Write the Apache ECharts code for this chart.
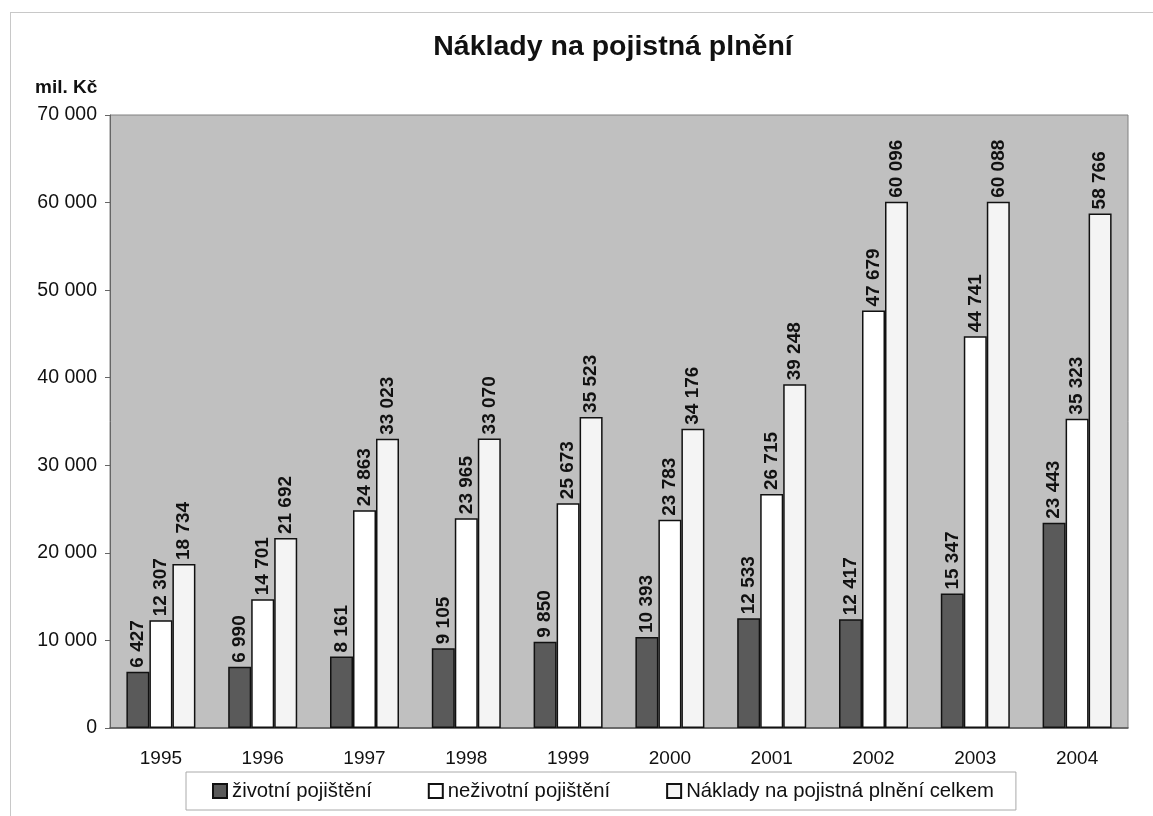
<!DOCTYPE html>
<html><head><meta charset="utf-8">
<script src="https://cdn.jsdelivr.net/npm/echarts@6/dist/echarts.min.js"></script>
<style>html,body{margin:0;padding:0;background:#fff}#c{width:1153px;height:816px}
#frame{position:absolute;left:10px;top:12px;width:1160px;height:820px;border:1.5px solid #c8c8c8;box-sizing:border-box;pointer-events:none}</style>
</head><body><div id="c"></div><div id="frame"></div>
<script>
const years = ['1995','1996','1997','1998','1999','2000','2001','2002','2003','2004'];
const zivotni = [6427, 6990, 8161, 9105, 9850, 10393, 12533, 12417, 15347, 23443];
const nezivotni = [12307, 14701, 24863, 23965, 25673, 23783, 26715, 47679, 44741, 35323];
const celkem = [18734, 21692, 33023, 33070, 35523, 34176, 39248, 60096, 60088, 58766];
const seriesNames = ['životní pojištění', 'neživotní pojištění', 'Náklady na pojistná plnění celkem'];

const fmt = v => String(v).replace(/\B(?=(\d{3})+(?!\d))/g, ' ');
const font = 'Arial, "Liberation Sans", sans-serif';
const lbl = {show:true, position:'top', rotate:90, align:'left', verticalAlign:'middle', distance:4,
  fontFamily:font, fontSize:19, fontWeight:'bold', color:'#111', formatter:p=>fmt(p.value)};
function mk(name, data, color){
  return {name, type:'bar', data, barWidth:23, barGap:'0%',
    itemStyle:{color, borderColor:'#111', borderWidth:1.5}, label:lbl};
}
const chart = echarts.init(document.getElementById('c'));
chart.setOption({
  animation:false,
  graphic:[
    {type:'text', left:35, top:78, style:{text:'mil. Kč', font:'bold 19px '+font, fill:'#111'}},
    {type:'text', x:613, y:47, style:{text:'Náklady na pojistná plnění', font:'bold 28.5px '+font, fill:'#111', align:'center', verticalAlign:'middle'}}
  ],
  grid:{left:110, right:25, top:115, bottom:88, show:true, backgroundColor:'#c0c0c0', borderColor:'#808080', borderWidth:1},
  legend:{top:772, left:186, itemWidth:14, itemHeight:14, itemGap:56, icon:'rect',
    padding:[9,22,9,26], borderColor:'#aaa', borderWidth:1,
    textStyle:{fontFamily:font, fontSize:20.3, color:'#111'},
    data:seriesNames},
  xAxis:{type:'category', data:years,
    axisLine:{lineStyle:{color:'#555', width:1.5}}, axisTick:{show:false},
    axisLabel:{fontFamily:font, fontSize:19, color:'#111', margin:21}},
  yAxis:{type:'value', min:0, max:70000, interval:10000,
    axisLine:{show:true, lineStyle:{color:'#666'}}, axisTick:{show:true, length:5, lineStyle:{color:'#666'}},
    splitLine:{show:false},
    axisLabel:{fontFamily:font, fontSize:19.5, color:'#111', margin:13, formatter:v=>fmt(v)}},
  series:[mk(seriesNames[0], zivotni, '#5a5a5a'), mk(seriesNames[1], nezivotni, '#ffffff'), mk(seriesNames[2], celkem, '#f4f4f4')]
});
</script></body></html>
